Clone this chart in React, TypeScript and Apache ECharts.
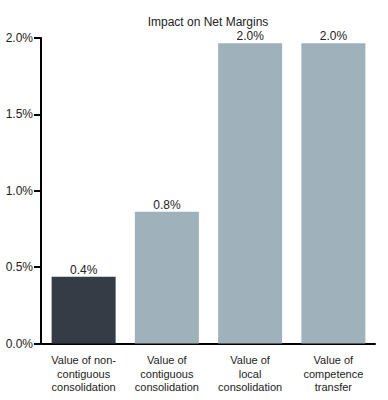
import React, { useEffect, useRef } from "react";
import * as echarts from "echarts";

const title = "Impact on Net Margins";
const categories = [
  "Value of non-\ncontiguous\nconsolidation",
  "Value of\ncontiguous\nconsolidation",
  "Value of\nlocal\nconsolidation",
  "Value of\ncompetence\ntransfer",
];
const values = [0.437, 0.863, 1.965, 1.965];
const valueLabels = ["0.4%", "0.8%", "2.0%", "2.0%"];
const barColors = ["#363c45", "#9fb2bc", "#9fb2bc", "#9fb2bc"];
const yTicks = { min: 0, max: 2, interval: 0.5 };

const FONT = "'Liberation Sans', Arial, sans-serif";

export default function App() {
  const ref = useRef<HTMLDivElement>(null);
  useEffect(() => {
    if (!ref.current) return;
    const chart = echarts.init(ref.current, undefined, { renderer: "svg" });
    chart.setOption({
      animation: false,
      title: {
        text: title,
        left: 203,
        textAlign: "center",
        top: 11,
        textStyle: {
          fontFamily: FONT,
          fontSize: 12,
          fontWeight: "normal",
          color: "#222",
        },
      },
      grid: { left: 42, right: 13, top: 38, bottom: 56.5 },
      xAxis: {
        type: "category",
        data: categories,
        axisLine: { show: true, lineStyle: { color: "#000", width: 2 } },
        axisTick: { show: false },
        axisLabel: {
          interval: 0,
          margin: 10,
          fontFamily: FONT,
          fontSize: 11,
          lineHeight: 13.5,
          color: "#222",
        },
      },
      yAxis: {
        type: "value",
        offset: 1,
        min: yTicks.min,
        max: yTicks.max,
        interval: yTicks.interval,
        splitLine: { show: false },
        axisLine: { show: true, lineStyle: { color: "#000", width: 2 } },
        axisTick: { show: true, length: 7, lineStyle: { color: "#000", width: 2 } },
        axisLabel: {
          margin: 8,
          formatter: (v: number) => v.toFixed(1) + "%",
          fontFamily: FONT,
          fontSize: 12,
          color: "#222",
        },
      },
      series: [
        {
          type: "bar",
          barWidth: 64,
          data: values.map((v, i) => ({ value: v, itemStyle: { color: barColors[i] } })),
          label: {
            show: true,
            position: "top",
            distance: 1,
            formatter: (p: any) => valueLabels[p.dataIndex],
            fontFamily: FONT,
            fontSize: 12,
            color: "#222",
          },
        },
      ],
    });
    return () => chart.dispose();
  }, []);
  return (
    <div
      ref={ref}
      style={{ position: "absolute", left: 0, top: 0, width: 388, height: 400 }}
    />
  );
}
